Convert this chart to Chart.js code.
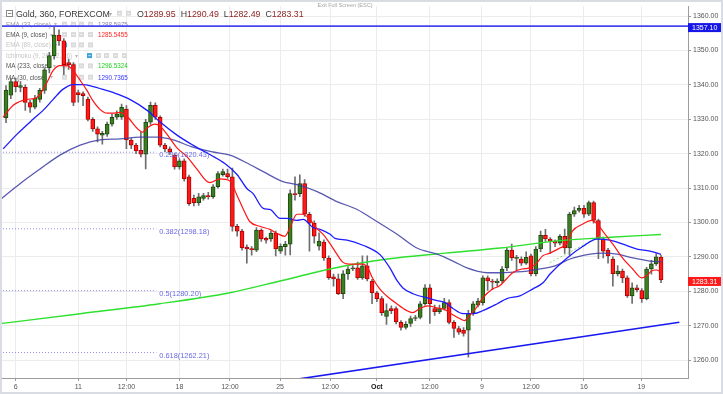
<!DOCTYPE html>
<html>
<head>
<meta charset="utf-8">
<script src="https://cdn.jsdelivr.net/npm/chart.js@4.4.0/dist/chart.umd.min.js"></script>
<style>
  html, body { margin: 0; padding: 0; background: #fff; }
</style>
</head>
<body>
<canvas id="chart" width="723" height="394"></canvas>
<script>
// Gold, 360, FOREXCOM - 6h candles, one entry per candle
const opens = [1330.5,1337,1341,1339.3,1339.3,1334.9,1333.5,1335.8,1338.4,1345,
  1348.5,1354.5,1352.8,1346.5,1345.9,1337.8,1337.5,1335.8,1330,1327.2,
  1325.4,1325.7,1328.6,1330.6,1330.6,1333,1324,1322.5,1321,1319.9,
  1329.2,1334.1,1330.6,1322.5,1321.4,1319.6,1316.2,1317.9,1313.3,1307,
  1305.8,1307,1307.8,1307.5,1310.4,1313.9,1314.2,1313.3,1298.9,1297.5,
  1292.9,1292.4,1292,1297.8,1295.4,1295.2,1296.9,1291.7,1293,1293.7,
  1308.4,1308.4,1311.3,1302.4,1299.8,1293.1,1294.3,1289.7,1284.2,1283.6,
  1279.3,1285.1,1286.5,1286.8,1283.9,1287.4,1283,1279.6,1277.9,1272.7,
  1275,1275,1271,1269.5,1270.7,1272.1,1272.4,1276.4,1281,1275,
  1274.1,1275,1276.7,1271,1269.2,1268.7,1268.7,1273.8,1276,1276.7,
  1283.9,1283,1282.5,1283,1286.8,1292,1289.6,1289.4,1288.2,1290.3,
  1285.1,1292.3,1296.3,1295.2,1294.6,1294,1296,1292.6,1302.4,1303.5,
  1304.1,1302.4,1305.8,1300.6,1295.2,1292,1289.4,1285.1,1285.9,1283.9,
  1278.7,1281,1280.2,1277.9,1286.5,1288,1289.95];
const highs = [1339.8,1342,1342,1341,1340,1335.5,1337,1339,1345,1349.5,
  1357.1,1356,1353.5,1347.5,1346.5,1338.5,1338,1336.5,1330.5,1327.8,
  1326.5,1329.2,1331.5,1332.5,1334.4,1334,1324.5,1323,1326.3,1330,
  1335,1334.8,1331,1323,1322,1320,1318.5,1318.5,1313.8,1308,
  1308.5,1308.5,1308.8,1311,1314.8,1315.5,1315.5,1315.8,1299.5,1298,
  1293.5,1293,1298.5,1298.2,1295.8,1297.5,1297.5,1293.8,1294.5,1309.5,
  1313.3,1313.9,1312.5,1303,1300.5,1297,1295,1290.3,1285,1285,
  1286,1287.2,1287.5,1288.5,1290.3,1290.3,1283.5,1280,1278.5,1276.4,
  1275.8,1275.5,1271.5,1271.2,1272.8,1273,1277,1282,1282,1276,
  1276,1278,1277.5,1271.5,1269.8,1269.5,1274.5,1277,1278,1284.5,
  1284.5,1283.5,1283.6,1287.2,1292.5,1293.7,1290.5,1290,1291.5,1290.8,
  1293,1297.5,1298,1295.6,1295,1296.5,1298.1,1303,1304.5,1305,
  1305,1306.2,1306.2,1301,1295.8,1292.5,1290,1287.5,1286.5,1284.5,
  1282.5,1281.8,1280.8,1287,1289,1291,1290.49];
const lows = [1329,1336,1338,1338,1332.6,1332,1333,1335,1337.5,1343.5,
  1347.5,1351.5,1343,1344.5,1334,1335,1334,1329.5,1326.5,1323.4,
  1322.8,1325,1328,1330,1330,1321.5,1321.5,1320,1319.1,1315.6,
  1328.5,1330,1322,1320.5,1319.8,1315.5,1315.5,1312,1305,1304.8,
  1305,1306.5,1306.8,1307,1310,1313.5,1312.8,1297.5,1296,1292,
  1288.2,1290.5,1291.5,1294.5,1294,1294.5,1290.3,1291,1290.5,1290.6,
  1306.5,1307.5,1301.8,1291.7,1294,1292,1289,1283.5,1281.5,1279,
  1277.9,1283.5,1286,1283.5,1283.5,1283,1276.4,1277,1273,1270.4,
  1273.5,1270.5,1268.7,1269,1269.8,1271.5,1272,1276,1270.7,1273,
  1273.5,1274.5,1270.5,1266.6,1267.5,1267,1260.9,1273,1275.5,1276,
  1280.3,1280.5,1281.5,1282.5,1286,1289,1286,1287.5,1287.8,1284.5,
  1284.5,1291.5,1294.5,1291,1293,1293.5,1291,1290.5,1301.8,1303,
  1301.5,1302,1299.8,1289.5,1289.7,1288.2,1281.5,1284.5,1282.5,1278.2,
  1276.5,1279.8,1276.8,1277.5,1285,1287.5,1282.49];
const closes = [1338.4,1341,1339.5,1339.8,1334.9,1333.5,1336.1,1338.4,1344.4,1348.5,
  1354.5,1352.8,1345.9,1345.9,1334.9,1337.2,1336.9,1330,1327.2,1325.7,
  1325.9,1328.6,1330.6,1331.5,1333.5,1324,1322.5,1320.8,1319.9,1329.2,
  1334.1,1330.6,1322.5,1321.4,1320.5,1316.2,1317.9,1312.7,1305.5,1305.8,
  1307.5,1307.8,1307.5,1310.4,1314.2,1314.8,1313.3,1298.9,1297.5,1292.6,
  1292.3,1292.1,1297.8,1295.2,1294.9,1296.9,1292.3,1293.1,1293.7,1308.4,
  1308.1,1311.3,1302.4,1299.8,1296,1294.6,1289.7,1284,1283.6,1279.3,
  1285.1,1286.5,1286.8,1283.9,1287.4,1283.6,1279.6,1277.9,1273.8,1274.4,
  1274.4,1271.2,1269.5,1270.4,1272.1,1272.4,1276.4,1281,1276.4,1274.1,
  1275,1276.7,1271,1269.2,1268.1,1267.8,1273.5,1276.4,1277.2,1283.9,
  1283,1282.7,1283,1286.5,1292,1289.7,1289.8,1288.2,1289.9,1285.1,
  1292.3,1296.3,1295.2,1294.6,1294,1296,1292.6,1302.4,1303.5,1304.1,
  1302.4,1305.8,1300.6,1295.4,1291.7,1290.3,1285.1,1285.9,1283.9,1278.7,
  1281,1280.5,1277.9,1286.5,1288,1290,1283.31];

// indicator lines (x = candle index)
const ema9Idx = [-0.6,1.5,4.4,6,7,8.5,9.8,11.2,12.7,13.9,15.4,16.8,18,19.5,21,22.2,23.7,25.1,27.2,28.4,
  29.5,30.9,32,33.4,35.5,37.6,39.6,42.3,44.4,46.5,47.9,49.2,50.6,52.7,54.8,56.2,57.9,58.9,60.4,61.6,
  63.1,64.5,65.8,67.2,68.7,69.9,71.4,74.1,75.1,76.1,77.6,79,81.1,83.2,84.4,85.9,87.6,89.4,91.1,92.1,
  94.2,95.2,96.3,97.7,99,101,102.5,103.9,105.2,107.1,108.7,110.2,111.4,112.9,115,116.4,117.6,119.7,121.6,122.6,
  123.9,126,128,130.1,132,133,134,135,136];
const ema9Val = [1330.6,1334.1,1335.8,1336.1,1337.2,1340.7,1344.2,1345.6,1345.6,1344.2,1341.3,1338.4,1335.5,1332.9,1331.8,1331.8,1332.0,1330.9,1327.4,1326.3,
  1327.7,1328.6,1328.0,1325.7,1321.7,1319.1,1315.6,1311.6,1312.7,1312.1,1308.1,1304.1,1300.3,1298.9,1298.0,1296.9,1296.0,1298.3,1302.4,1302.4,
  1300.9,1298.3,1296.6,1294.0,1290.8,1288.5,1287.9,1287.9,1286.8,1283.9,1280.7,1278.7,1276.4,1274.4,1273.8,1275.0,1275.8,1275.2,1274.7,1273.8,
  1272.1,1271.5,1273.0,1275.3,1278.1,1280.7,1281.6,1283.6,1285.4,1286.5,1286.8,1288.2,1290.3,1291.1,1292.6,1293.7,1297.5,1299.5,1300.6,1299.8,
  1297.5,1293.7,1289.7,1286.5,1283.9,1284.5,1285.9,1286.2,1285.55];
const ma30Idx = [-0.6,2.3,5.6,7.7,9.8,11.8,13.9,16,18.1,20.1,22.2,25.7,29.3,32,35.5,38.8,42.4,45.5,48,50,
  51.3,53.4,54.8,56.9,58.3,60.4,61.7,63.7,65.2,67.3,68.3,70.8,74.1,77.7,79.7,81.2,82.4,84.5,88,89.5,
  91.2,92.8,94.9,97,99,102,104,106.7,109.4,111.5,113,116.5,119.8,122.7,125.4,128.1,131,133.7,136];
const ma30Val = [1321.4,1325.7,1330.0,1332.6,1335.8,1338.7,1340.1,1340.1,1339.5,1338.7,1337.8,1335.8,1332.6,1329.2,1325.4,1322.5,1319.7,1317.1,1313.9,1309.9,
  1308.4,1304.1,1303.8,1301.2,1301.2,1300.6,1300.9,1298.6,1298.0,1296.6,1295.4,1294.9,1293.4,1290.6,1286.8,1283.1,1281.0,1279.3,1277.9,1277.3,
  1276.7,1275.0,1273.5,1273.5,1274.4,1276.4,1277.9,1278.7,1280.7,1282.5,1285.1,1289.7,1293.1,1295.2,1294.9,1293.7,1292.3,1291.7,1290.74];
const ema33Idx = [-1.2,2.9,7.1,11.2,15.4,19.5,23.7,27.8,31.4,34.7,38.8,43,46.5,50.7,53.4,57.5,60.4,64.6,68.7,72.9,
  77,81.2,85.3,89.5,92.8,95.7,97.8,99.9,102.6,105.3,108.2,110.9,114,117.1,121.3,124,126.9,130.2,133.7,136];
const ema33Val = [1306.7,1311.3,1315.6,1319.6,1322.5,1324.0,1324.3,1324.8,1324.8,1324.0,1321.9,1320.5,1319.6,1316.8,1314.8,1311.9,1311.0,1309.0,1306.1,1303.8,
  1300.3,1296.6,1292.6,1290.8,1288.8,1286.8,1285.9,1285.4,1285.4,1285.6,1285.9,1286.5,1287.4,1289.4,1290.8,1291.1,1290.8,1289.7,1288.8,1288.6];
const ma233Idx = [-1.2,15.4,31.9,46.5,56.9,67.3,77.7,91.2,102.6,114,125.4,136];
const ma233Val = [1270.6,1273.5,1276.4,1279.6,1283.0,1286.5,1289.1,1291.1,1292.6,1294.6,1295.7,1296.53];
const dashIdx = [112.9, 124];
const dashVal = [1288.3, 1296.6];

// drawings
const hLevel = 1357.10;
const trendIdx = [50, 139.8];
const trendVal = [1252.3, 1271.0];
const fibRatio = ['0.236', '0.382', '0.5', '0.618'];
const fibLevel = [1320.43, 1298.18, 1280.20, 1262.21];
const fibEndIdx = 31.2;

// legend values as shown by the platform
const legendNames = ['EMA (33, close)', 'EMA (9, close)', 'EMA (89, close)', 'Ichimoku (9, 26, 52, 26)', 'MA (233, close)', 'MA (30, close)'];
const legendValues = ['1288.5975', '1285.5455', '', '', '1296.5324', '1290.7365'];

// axes
const xTickIdx = [2, 15, 25, 36, 46.5, 56.9, 67.3, 77, 88, 98.8, 109, 120, 131.9];
const xTickLabel = ['6', '11', '12:00', '18', '12:00', '25', '12:00', 'Oct', '12:00', '9', '12:00', '16', '19'];
const xMin = -1.25, xMax = 141.6;
const yMin = 1254.81, yMax = 1362.88;

const FONT = "'Liberation Sans', Arial, sans-serif";
const last = closes.length - 1;

const xy = (xs, ys) => xs.map((x, i) => ({ x: x, y: ys[i] }));
const up = opens.map((o, i) => closes[i] >= o);

const lineSet = (data, color, width, extra) => Object.assign({
  type: 'line',
  data: data,
  borderColor: color,
  borderWidth: width,
  pointRadius: 0,
  fill: false,
  cubicInterpolationMode: 'monotone',
  order: 0
}, extra || {});

const tag = (c, x, y, text, bg) => {
  c.fillStyle = bg;
  c.fillRect(x, y - 4, 33, 9);
  c.fillStyle = '#fff';
  c.font = '7px ' + FONT;
  c.textAlign = 'left';
  c.textBaseline = 'middle';
  c.fillText(text, x + 4, y + 0.7);
};

const squares = (c, xs, y, blue) => {
  xs.forEach((x, k) => {
    c.fillStyle = k === blue ? '#3ba3de' : '#dadada';
    c.fillRect(x, y - 2.6, 5, 5);
    c.fillStyle = '#fff';
    c.fillRect(x + 1.5, y - 0.4, 2, 0.8);
  });
};

const overlay = {
  id: 'overlay',
  beforeDraw(chart) {
    const c = chart.ctx;
    c.save();
    c.fillStyle = '#fff';
    c.fillRect(0, 0, chart.width, chart.height);
    c.restore();
  },
  beforeDatasetsDraw(chart) {
    const c = chart.ctx;
    c.save();
    c.textBaseline = 'alphabetic';
    c.textAlign = 'left';

    // title row
    c.strokeStyle = '#8a8a8a';
    c.lineWidth = 1;
    c.strokeRect(6.5, 10.5, 6, 6);
    c.beginPath(); c.moveTo(8, 13.5); c.lineTo(11.5, 13.5); c.stroke();
    c.font = '8.8px ' + FONT;
    c.fillStyle = '#3a3a3a';
    c.fillText('Gold, 360, FOREXCOM', 16, 17);
    c.fillStyle = '#aaa';
    c.font = '6px ' + FONT;
    c.fillText('\u25BE', 108.5, 16);
    squares(c, [117, 126], 13.3, -1);
    const ohlc = [['O', opens[last]], ['H', highs[last]], ['L', lows[last]], ['C', closes[last]]];
    let ox = 137;
    c.font = '8.8px ' + FONT;
    ohlc.forEach(p => {
      c.fillStyle = '#3a3a3a';
      c.fillText(p[0], ox, 17);
      ox += c.measureText(p[0]).width;
      c.fillStyle = '#8e1f1f';
      const s = p[1].toFixed(2);
      c.fillText(s, ox, 17);
      ox += c.measureText(s).width + 5;
    });

    // indicator rows
    const rowY = [24.3, 34.7, 45, 55.7, 66, 77.3];
    const rowText = ['#9a9a9a', '#555', '#c6c6c6', '#c6c6c6', '#555', '#555'];
    const rowVal = ['#8a8ab4', '#ff2424', '', '', '#1fcf1f', '#3535ff'];
    c.font = '6.3px ' + FONT;
    legendNames.forEach((name, r) => {
      const y = rowY[r];
      c.fillStyle = rowText[r];
      c.fillText(name, 6, y + 2.2);
      const w = c.measureText(name).width;
      c.fillStyle = '#bbb';
      c.fillText('\u25BE', 6 + w + 3, y + 2);
      if (r === 3) squares(c, [87, 96, 104, 113, 122], y, 0);
      else squares(c, [62, 71, 79, 88], y, r === 2 ? 0 : -1);
      if (legendValues[r]) {
        c.fillStyle = rowVal[r];
        c.fillText(legendValues[r], 98, y + 2.2);
      }
    });

    // exit full screen hint
    c.font = '5.5px ' + FONT;
    c.fillStyle = '#a5a5a5';
    c.textAlign = 'center';
    c.fillText('Exit Full Screen (ESC)', 345, 6.5);
    c.restore();
  },
  afterDraw(chart) {
    const c = chart.ctx;
    const xs = chart.scales.x, ys = chart.scales.y, area = chart.chartArea;
    c.save();
    // fib labels
    c.font = '7.4px ' + FONT;
    c.fillStyle = '#6a6ae4';
    c.textAlign = 'left';
    c.textBaseline = 'middle';
    fibLevel.forEach((lv, i) => {
      c.fillText(fibRatio[i] + '(' + lv.toFixed(2) + ')', xs.getPixelForValue(fibEndIdx) + 3, ys.getPixelForValue(lv) + 3);
    });
    // price tags on the axis
    tag(c, area.right, ys.getPixelForValue(hLevel) + 1, hLevel.toFixed(2), '#1616e8');
    tag(c, area.right, ys.getPixelForValue(closes[last]) + 1, closes[last].toFixed(2), '#ff1a1a');
    // frame
    c.strokeStyle = '#d9dce2';
    c.lineWidth = 2;
    c.strokeRect(1, 1, chart.width - 2, chart.height - 2);
    c.restore();
  }
};

const candleIdx = opens.map((_, i) => i);

new Chart(document.getElementById('chart'), {
  type: 'bar',
  data: {
    datasets: [
      lineSet(xy(ema9Idx, ema9Val), '#ff1414', 1.2),
      lineSet(xy(ma30Idx, ma30Val), '#1c1cff', 1.3),
      lineSet(xy(ema33Idx, ema33Val), 'rgba(60,60,165,0.85)', 1.3),
      lineSet(xy(ma233Idx, ma233Val), '#2ee02e', 1.4),
      lineSet(xy(dashIdx, dashVal), 'rgba(70,215,70,0.7)', 1, { borderDash: [2, 2] }),
      lineSet(xy(trendIdx, trendVal), '#1818f0', 1.6),
      lineSet([{ x: xMin, y: hLevel }, { x: xMax, y: hLevel }], '#4646ee', 1.8),
      ...fibLevel.map(lv => lineSet([{ x: xMin, y: lv }, { x: fibEndIdx, y: lv }], 'rgba(110,110,225,0.75)', 1, { borderDash: [1, 2], order: 1 })),
      {
        label: 'body',
        data: candleIdx.map(i => ({ x: i, y: [opens[i], closes[i]] })),
        backgroundColor: up.map(u => u ? '#3b7f22' : '#ff1a1a'),
        borderColor: up.map(u => u ? '#1e4a10' : '#b10000'),
        borderWidth: 1,
        borderSkipped: false,
        barThickness: 4,
        minBarLength: 1,
        grouped: false,
        order: 2
      },
      {
        label: 'wick',
        data: candleIdx.map(i => ({ x: i, y: [lows[i], highs[i]] })),
        backgroundColor: '#6e6e6e',
        barThickness: 1,
        grouped: false,
        order: 3
      }
    ]
  },
  options: {
    responsive: false,
    animation: false,
    events: [],
    layout: { padding: { top: 3, left: 0, right: 0, bottom: 0 } },
    plugins: { legend: { display: false }, tooltip: { enabled: false } },
    scales: {
      x: {
        type: 'linear',
        min: xMin,
        max: xMax,
        offset: false,
        grid: { color: '#ececec', offset: false, tickLength: 3, tickColor: '#999' },
        border: { color: '#9c9c9c' },
        afterBuildTicks: s => { s.ticks = xTickIdx.map(v => ({ value: v })); },
        afterFit: s => { s.height = 16; },
        ticks: {
          autoSkip: false,
          maxRotation: 0,
          padding: 2,
          color: ctx => (ctx.tick && ctx.tick.label === 'Oct') ? '#111' : '#555',
          font: ctx => ({ family: FONT, size: 7, weight: (ctx.tick && ctx.tick.label === 'Oct') ? 'bold' : 'normal' }),
          callback: (v, i) => xTickLabel[i]
        }
      },
      y: {
        position: 'right',
        min: yMin,
        max: yMax,
        grid: { color: '#ececec', tickLength: 3, tickColor: '#999' },
        border: { color: '#9c9c9c' },
        afterFit: s => { s.width = 35; },
        ticks: {
          stepSize: 10,
          includeBounds: false,
          padding: 2,
          color: '#555',
          font: { family: FONT, size: 7 },
          callback: v => v.toFixed(2)
        }
      }
    }
  },
  plugins: [overlay]
});
</script>
</body>
</html>
